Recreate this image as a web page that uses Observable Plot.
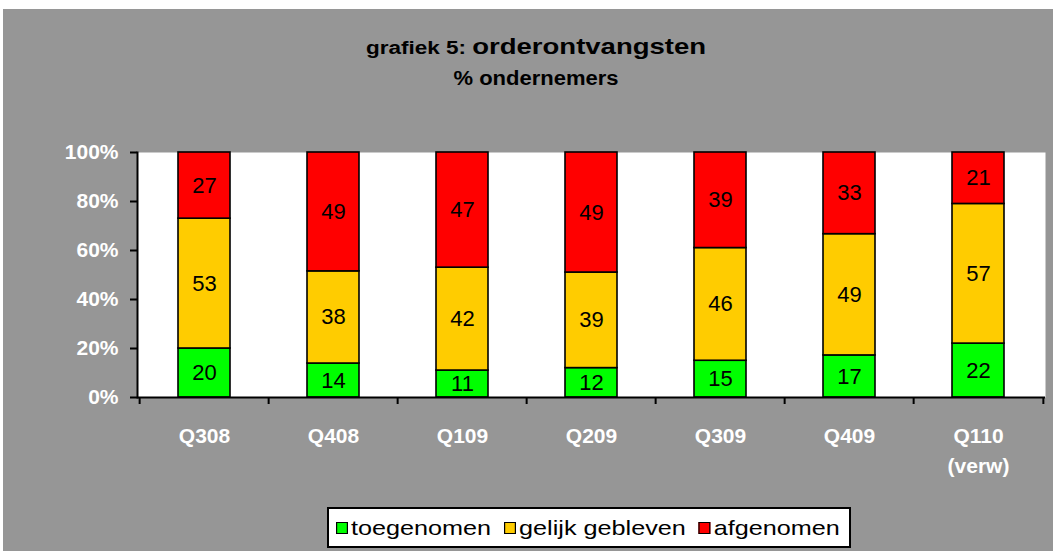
<!DOCTYPE html>
<html>
<head>
<meta charset="utf-8">
<script src="https://cdn.jsdelivr.net/npm/d3@7"></script>
<script src="https://cdn.jsdelivr.net/npm/@observablehq/plot@0.6"></script>
<style>
  body { margin: 0; font-family: "Liberation Sans", Arial, sans-serif; }
  #wrap { position: relative; width: 1053px; height: 551px; background: white; overflow: hidden; }
  #bg { position: absolute; left: 3px; top: 9px; right: 0; bottom: 0; background: #969696; }
  #chart { position: absolute; left: 0; top: 0; }
  .tline { position: absolute; left: 0; width: 1072px; text-align: center; font-weight: bold; color: black; white-space: nowrap; }
  #t1 { top: 36px; line-height: 22px; transform: scaleX(1.25); transform-origin: 536px 50%; }
  #t2 { top: 68px; font-size: 20px; line-height: 20px; transform: scaleX(1.1); transform-origin: 536px 50%; }
  #legend { position: absolute; left: 327px; top: 507px; width: 520px; height: 37px; border: 2px solid black; background: white; }
  #legin { position: absolute; left: 6.7px; top: 0; height: 37px; display: flex; align-items: center; transform: scaleX(1.2); transform-origin: 0 50%; font-size: 21px; white-space: nowrap; }
  .item { display: flex; align-items: center; margin-right: 10.8px; }
  .sw { width: 8px; height: 10px; border: 1.5px solid black; margin-right: 2.5px; }
</style>
</head>
<body>
<div id="wrap">
  <div id="bg"></div>
  <div id="chart"></div>
  <div class="tline" id="t1"><span style="font-size:18px">grafiek 5: </span><span style="font-size:22px">orderontvangsten</span></div>
  <div class="tline" id="t2">% ondernemers</div>
  <div id="legend"><div id="legin"></div></div>
</div>
<script>
const cats = ["Q308", "Q408", "Q109", "Q209", "Q309", "Q409", "Q110\n(verw)"];
const series = ["toegenomen", "gelijk gebleven", "afgenomen"];
const toegenomen = [20, 14, 11, 12, 15, 17, 22];
const gelijkGebleven = [53, 38, 42, 39, 46, 49, 57];
const afgenomen = [27, 49, 47, 49, 39, 33, 21];
const colors = ["#00ff00", "#ffcc00", "#ff0000"];
const yTicks = [0, 0.2, 0.4, 0.6, 0.8, 1];

const valuesBySeries = [toegenomen, gelijkGebleven, afgenomen];
const data = cats.flatMap((q, i) => series.map((s, j) => ({q, s, v: valuesBySeries[j][i]})));

const W = 1053, ML = 137, MR = 8;
const step = (W - ML - MR) / cats.length;

const chart = Plot.plot({
  width: W, height: 490,
  marginLeft: ML, marginRight: MR, marginTop: 152, marginBottom: 93,
  style: {background: "transparent", color: "black", fontFamily: "'Liberation Sans', Arial, sans-serif", overflow: "visible"},
  x: {domain: cats, paddingInner: 0.6, paddingOuter: 0.3, label: null},
  y: {domain: [0, 1], label: null},
  color: {domain: series, range: colors},
  marks: [
    Plot.frame({fill: "white", stroke: "none"}),
    Plot.barY(data, Plot.stackY({offset: "normalize", order: null, x: "q", y: "v", fill: "s", stroke: "black", strokeWidth: 1.6})),
    Plot.text(data, Plot.stackY({offset: "normalize", order: null, x: "q", y: "v", text: d => String(d.v), fontSize: 22, fill: "black"})),
    Plot.ruleY([0], {strokeWidth: 2}),
    Plot.frame({anchor: "left", strokeWidth: 2}),
    Plot.axisY({ticks: yTicks, tickSize: 7, tickFormat: () => "", strokeWidth: 2, label: null}),
    Plot.axisY({ticks: yTicks, tickSize: 0, tickPadding: 19, tickFormat: d3.format(".0%"), color: "white", fontSize: 21, fontWeight: "bold", label: null}),
    Plot.axisX({ticks: cats, tickSize: 7, tickFormat: () => "", dx: -step / 2, strokeWidth: 2, label: null}),
    Plot.axisX({ticks: [cats[cats.length - 1]], tickSize: 7, tickFormat: () => "", dx: step / 2, strokeWidth: 2, label: null}),
    Plot.axisX({ticks: cats, tickSize: 0, tickPadding: 25, color: "white", fontSize: 21, fontWeight: "bold", lineHeight: 1.4, label: null})
  ]
});
document.getElementById("chart").appendChild(chart);

const legin = document.getElementById("legin");
series.forEach((s, j) => {
  const item = document.createElement("div");
  item.className = "item";
  const sw = document.createElement("div");
  sw.className = "sw";
  sw.style.background = colors[j];
  const tx = document.createElement("span");
  tx.textContent = s;
  item.appendChild(sw);
  item.appendChild(tx);
  legin.appendChild(item);
});
</script>
</body>
</html>
